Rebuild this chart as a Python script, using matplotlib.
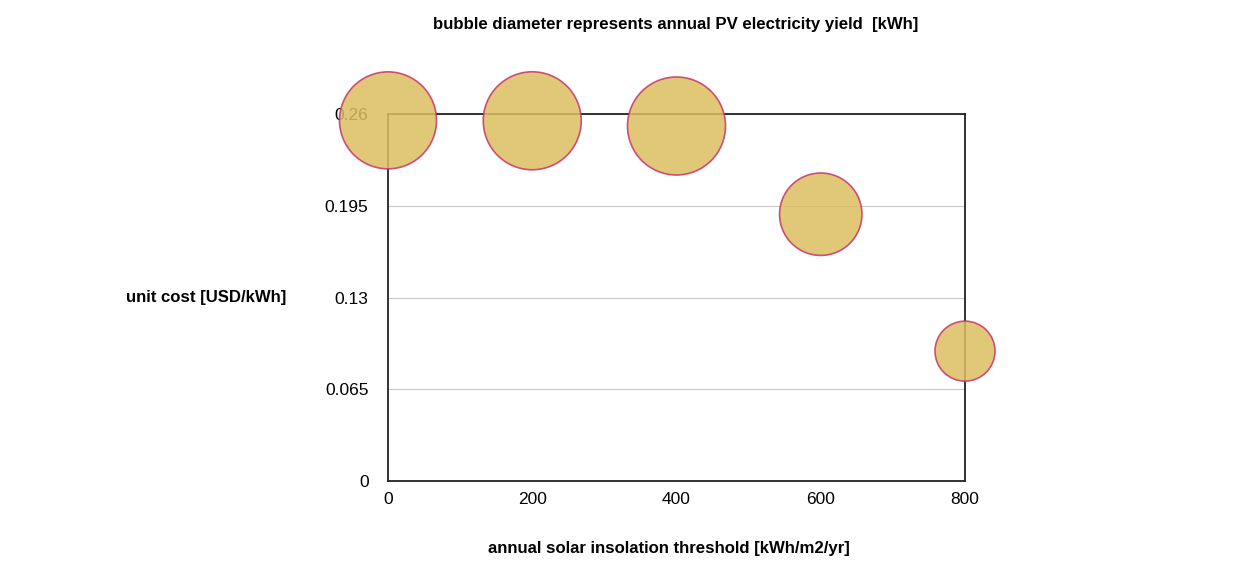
import matplotlib
matplotlib.use('Agg')
import matplotlib.pyplot as plt

plt.rcParams['font.family'] = ['Liberation Sans', 'DejaVu Sans']

# data
insolation_threshold = [0, 200, 400, 600, 800]
unit_cost = [0.2555, 0.2552, 0.2515, 0.189, 0.092]
pv_yield_kwh = [4850, 4900, 4900, 4120, 3000]
yticks = [0, 0.065, 0.13, 0.195, 0.26]
xticks = [0, 200, 400, 600, 800]

# bubble diameter in pixels per kWh (fig is 100 dpi)
px_per_kwh = 0.02
sizes = [(v * px_per_kwh * 0.72) ** 2 for v in pv_yield_kwh]

fig = plt.figure(figsize=(12.52, 5.69), dpi=100)
ax = fig.add_axes([388 / 1252, 88 / 569, 577 / 1252, 367 / 569])

ax.scatter(insolation_threshold, unit_cost, s=sizes, color='#dcbf62', alpha=0.85,
           edgecolors='#c8336b', linewidths=1.2, zorder=3, clip_on=False)

ax.set_xlim(0, 800)
ax.set_ylim(0, 0.26)
ax.set_xticks(xticks)
ax.set_xticklabels([str(t) for t in xticks])
ax.set_yticks(yticks)
ax.set_yticklabels(['0', '0.065', '0.13', '0.195', '0.26'])
ax.tick_params(axis='y', length=0, pad=14, labelsize=12.5)
ax.tick_params(axis='x', length=0, pad=8, labelsize=12.5)
ax.yaxis.grid(True, color='#c8c8c8', linewidth=0.8)
ax.set_axisbelow(True)

for sp in ax.spines.values():
    sp.set_color('#222222')
    sp.set_linewidth(1.3)

ax.set_ylabel('unit cost [USD/kWh]', rotation=0, fontsize=12.1, fontweight='bold',
              ha='center', va='center')
ax.yaxis.set_label_coords(-0.315, 0.499)
ax.set_xlabel('annual solar insolation threshold [kWh/m2/yr]', fontsize=12.1,
              fontweight='bold', ha='center', va='center')
ax.xaxis.set_label_coords(0.487, -0.185)
ax.text(0.499, 1.245, 'bubble diameter represents annual PV electricity yield  [kWh]',
        transform=ax.transAxes, ha='center', va='center', fontsize=12.1, fontweight='bold')

fig.savefig('out.png', dpi=100)
